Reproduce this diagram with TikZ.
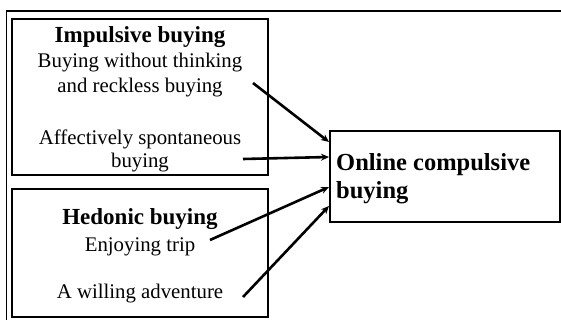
\documentclass[tikz,border=0pt]{standalone}
\usepackage{fontspec}
\setmainfont{Liberation Serif}
\usetikzlibrary{positioning,calc,arrows.meta}

\begin{document}
\begin{tikzpicture}[
        x=1pt, y=-1pt,
        box/.style={draw, line width=2.4pt, minimum width=256pt},
        line/.style={anchor=base, inner sep=0pt, font=\fontsize{20.8}{24}\selectfont},
        title/.style={anchor=base, inner sep=0pt, font=\fontsize{23}{26}\selectfont\bfseries},
        link/.style={-{Stealth[length=8pt, width=7pt]}, line width=2.6pt}
    ]
    \useasboundingbox (0,0) rectangle (561,320);

    % Outer frame
    \draw[line width=1.6pt] (561,11) -- (6.5,11) -- (6.5,320);

    % Impulsive buying
    \node[box, minimum height=156pt] (impulsive) at (140,97) {};
    \node[title] (imptitle) at (140,43) {Impulsive buying};
    \node[line] (thinking) at (140,68) {Buying without thinking};
    \node[line] (reckless) at (140,93) {and reckless buying};
    \node[line] (affective) at (140,145) {Affectively spontaneous};
    \node[line] (spont) at (140,168) {buying};

    % Hedonic buying
    \node[box, minimum height=128pt] (hedonic) at (140,253) {};
    \node[title] (hedtitle) at (140,224) {Hedonic buying};
    \node[line] (trip) at (140,251) {Enjoying trip};
    \node[line] (adventure) at (140,298) {A willing adventure};

    % Online compulsive buying
    \node[draw, line width=2pt, minimum width=230pt, minimum height=91pt] (online) at (445,176.5) {};
    \node[anchor=base west, inner sep=0pt, font=\fontsize{24.5}{28}\selectfont\bfseries]
        (ontitle) at (336,171) {Online compulsive};
    \node[anchor=base west, inner sep=0pt, font=\fontsize{24.5}{28}\selectfont\bfseries]
        (onbuy) at (336,199) {buying};

    % Arrow starts
    \coordinate (s1) at (253,83);
    \coordinate (s2) at (243,159);
    \coordinate (s3) at (210,240);
    \coordinate (s4) at (243,297);

    % Arrows - from the items to the online box
    \draw[link] (s1) -- ($(online.north west) + (0,12)$);
    \draw[link] (s2) -- ($(online.north west) + (0,27)$);
    \draw[link] (s3) -- ($(online.north west) + (0,57)$);
    \draw[link] (s4) -- ($(online.north west) + (0,76)$);

\end{tikzpicture}
\end{document}
